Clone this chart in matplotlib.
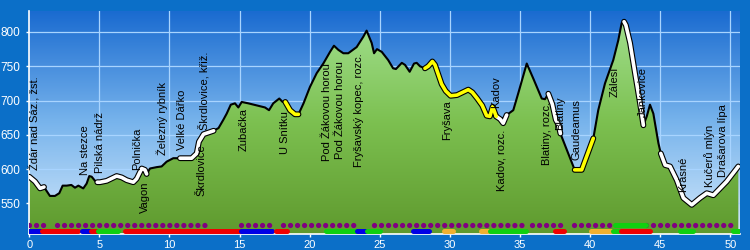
import numpy as np
import matplotlib.pyplot as plt
from matplotlib.colors import LinearSegmentedColormap

plt.rcParams['font.family'] = ['Liberation Sans', 'DejaVu Sans']

# elevation profile (km, m)
km = [0.0, 0.41, 0.77, 1.05, 1.47, 1.83, 2.14, 2.38, 2.67, 3.0, 3.26, 3.5, 3.85, 4.09,
      4.28, 4.45, 4.69, 4.85, 5.04, 5.52, 6.23, 6.59, 6.95, 7.42, 7.66, 8.02, 8.25, 8.37,
      8.61, 9.09, 9.44, 9.8, 10.27, 10.75, 11.58, 11.94, 12.1, 12.43, 13.15, 13.5, 13.84,
      14.08, 14.37, 14.67, 14.91, 15.15, 15.62, 16.22, 16.81, 17.1, 17.4, 17.83, 18.07,
      18.26, 18.6, 18.95, 19.2, 19.56, 20.02, 20.5, 20.97, 21.45, 21.73, 22.04, 22.4,
      22.75, 23.35, 23.82, 24.06, 24.42, 24.59, 24.8, 25.14, 25.6, 25.95, 26.15, 26.57,
      26.8, 27.13, 27.44, 27.63, 27.87, 28.22, 28.45, 28.75, 28.94, 29.41, 29.7, 30.05,
      30.5, 31.31, 31.6, 31.95, 32.3, 32.62, 32.85, 33.05, 33.3, 33.58, 33.8, 34.05,
      34.52, 34.88, 35.48, 35.95, 36.55, 36.78, 37.02, 37.3, 37.55, 37.76, 37.88, 38.9,
      39.4, 40.23, 40.58, 41.06, 41.65, 42.01, 42.25, 42.42, 42.55, 42.85, 43.2, 43.56,
      43.8, 44.04, 44.27, 44.51, 44.87, 45.04, 45.35, 45.7, 46.18, 46.65, 47.25, 47.84,
      48.32, 48.79, 49.74, 50.57]
elev = [589, 582, 572, 574, 561, 561, 565, 576, 576, 577, 573, 576, 572, 579,
        590, 589, 583, 581, 581, 583, 590, 588, 584, 581, 586, 601, 599, 593,
        601, 603, 604, 611, 616, 616, 616, 623, 640, 651, 656, 660, 672,
        681, 694, 696, 690, 698, 696, 693, 690, 686, 696, 703, 698,
        698, 686, 680, 680, 696, 720, 740, 754, 771, 780, 774, 769,
        769, 778, 793, 802, 784, 769, 775, 771, 759, 747, 746, 755,
        752, 742, 754, 755, 750, 747, 750, 757, 752, 724, 714, 707,
        708, 716, 712, 703, 693, 678, 677, 691, 677, 673, 667, 679,
        686, 711, 754, 732, 703, 702, 710, 695, 672, 664, 652, 599,
        599, 645, 686, 725, 759, 788, 813, 815, 810, 784, 740, 696,
        664, 677, 694, 681, 638, 623, 606, 604, 584, 558, 548, 558,
        565, 562, 582, 604]

white_parts = [(0.0, 1.05), (4.85, 8.37), (10.75, 13.15), (33.3, 34.05),
               (37.02, 37.88), (42.42, 43.8), (45.04, 50.57)]
yellow_parts = [(18.26, 19.2), (28.22, 33.3), (38.9, 40.23)]

# waypoint names: km, anchor elevation, name
names_above = [
    (0.41, 599, 'Ždár nad Sáz., žst.'),
    (3.98, 591, 'Na stezce'),
    (5.04, 594, 'Pilská nádrž'),
    (7.66, 599, 'Polnička'),
    (9.5, 621, 'Železný rybník'),
    (10.87, 628, 'Velké Dářko'),
    (12.42, 657, 'Škrdlovice, křiž.'),
    (33.33, 689, 'Kadov'),
    (37.85, 657, 'Blatiny'),
    (39.04, 613, 'Gaudeamus'),
    (43.75, 676, 'Jankovice'),
    (46.6, 567, 'Krásné'),
    (48.55, 574, 'Kučerů mlýn'),
    (49.5, 589, 'Drašarova lípa'),
]
names_below = [
    (8.25, 582, 'Vagon'),
    (12.3, 637, 'Škrdlovice'),
    (15.26, 689, 'Zubačka'),
    (18.24, 684, 'U Snítku'),
    (21.26, 754, 'Pod Žákovou horou'),
    (22.16, 757, 'Pod Žákovou horou'),
    (23.54, 769, 'Fryšavský kopec, rozc.'),
    (29.77, 701, 'Fryšava'),
    (33.7, 657, 'Kadov, rozc.'),
    (36.95, 698, 'Blatiny, rozc.'),
    (41.78, 749, 'Zálesí'),
]

# marking strips along the bottom
purple_runs = [(0.0, 1.05), (2.0, 12.94), (15.08, 17.55), (18.07, 23.3),
               (24.58, 35.12), (35.83, 37.97), (38.85, 41.77), (43.99, 50.45)]
green_top_runs = [(41.77, 44.0)]
bar_runs = [(0.0, 0.88, 'blue'), (0.88, 3.5, 'red'), (3.74, 4.38, 'blue'),
            (4.38, 4.92, 'red'), (4.92, 6.35, 'green'), (6.83, 15.08, 'red'),
            (15.08, 17.29, 'blue'), (17.6, 18.4, 'red'), (21.16, 23.35, 'green'),
            (23.35, 24.07, 'blue'), (24.07, 25.0, 'green'), (27.35, 28.53, 'blue'),
            (29.58, 30.2, 'orange'), (32.2, 32.77, 'orange'), (32.86, 35.43, 'green'),
            (37.5, 38.14, 'red'), (40.04, 41.6, 'orange'), (41.6, 42.18, 'green'),
            (42.18, 44.27, 'red'), (46.41, 47.36, 'green'), (50.2, 50.6, 'green')]
bar_colors = {'blue': '#0000e6', 'red': '#f00000', 'green': '#10d010', 'orange': '#f0b030'}

km = np.array(km)
elev = np.array(elev)
x0, x1 = -0.02, 50.69
y0, y1 = 505.5, 830.6

fig = plt.figure(figsize=(7.5, 2.5), dpi=100, facecolor='#0b6fc8')
ax = fig.add_axes([29 / 750, 16 / 250, 711 / 750, 223 / 250])
ax.set_xlim(x0, x1)
ax.set_ylim(y0, y1)

grad = np.linspace(1, 0, 256).reshape(-1, 1)
sky = LinearSegmentedColormap.from_list('sky', ['#d2e8fb', '#78b4ec', '#1a6bd0'])
ax.imshow(grad, cmap=sky, extent=[x0, x1, y0, y1], aspect='auto', origin='upper', zorder=0)

for v in range(550, 801, 50):
    ax.axhline(v, color='#a8d4ff', lw=0.9, zorder=1)
for v in range(5, 51, 5):
    ax.axvline(v, color='#a8d4ff', lw=0.9, zorder=1)

poly = ax.fill_between(km, elev, y0, color='none', zorder=2)
greens = LinearSegmentedColormap.from_list('grn', ['#5f9a2e', '#7cc050', '#a4e292'])
img = ax.imshow(grad, cmap=greens, extent=[x0, x1, y0, y1], aspect='auto', origin='upper', zorder=2)
img.set_clip_path(poly.get_paths()[0], transform=ax.transData)

ax.plot(km, elev, color='black', lw=1.5, zorder=3)
for parts, col in [(white_parts, 'white'), (yellow_parts, '#ffff00')]:
    for a, b in parts:
        m = (km >= a) & (km <= b)
        ax.plot(km[m], elev[m], color='black', lw=4.2, solid_capstyle='round', zorder=3)
        ax.plot(km[m], elev[m], color=col, lw=2.6, solid_capstyle='round', zorder=4)

for x, y, t in names_above:
    ax.text(x, y, t, rotation=90, ha='center', va='bottom', fontsize=8, zorder=5)
for x, y, t in names_below:
    ax.text(x, y, t, rotation=90, ha='center', va='top', fontsize=8, zorder=5)

row_top, row_bot = 518.7, 509.5
for a, b in purple_runs:
    ax.plot([a, b], [row_top, row_top], color='#800080', lw=3.8,
            linestyle=(0, (0.01, 1.32)), dash_capstyle='round', zorder=6)
for a, b in green_top_runs:
    ax.plot([a, b], [row_top, row_top], color=bar_colors['green'], lw=3.6,
            solid_capstyle='round', zorder=6)
for a, b, c in bar_runs:
    ax.plot([a, b], [row_bot, row_bot], color=bar_colors[c], lw=3.6,
            solid_capstyle='round', zorder=6)

ax.set_xticks(range(0, 51, 5))
ax.set_yticks(range(550, 801, 50))
ax.tick_params(colors='white', labelsize=8.5, length=2.5, width=1)
ax.tick_params(axis='x', pad=1.5, labelsize=8)
for s in ['top', 'right']:
    ax.spines[s].set_visible(False)
for s in ['left', 'bottom']:
    ax.spines[s].set_color('white')
    ax.spines[s].set_linewidth(1.2)

fig.savefig('out.png', dpi=100, facecolor=fig.get_facecolor())
